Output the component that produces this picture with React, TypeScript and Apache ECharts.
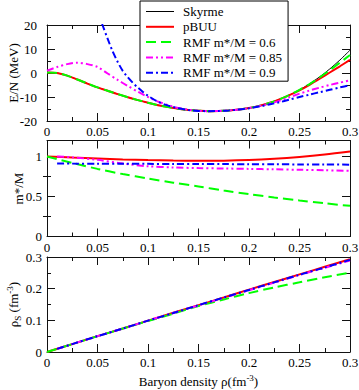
import React, { useEffect, useRef } from "react";
import * as echarts from "echarts";

// ---------- data ----------
const RHO = [0, 0.01, 0.02, 0.03, 0.04, 0.05, 0.06, 0.07, 0.08, 0.09, 0.1, 0.11, 0.12, 0.13, 0.14, 0.15, 0.16, 0.17, 0.18, 0.19, 0.2, 0.21, 0.22, 0.23, 0.24, 0.25, 0.26, 0.27, 0.28, 0.29, 0.3];
const SKYRME_EN = [0.2, 0.0, -1.1, -2.7, -4.4, -6.0, -7.4, -8.8, -10.1, -11.3, -12.4, -13.4, -14.2, -14.9, -15.4, -15.7, -15.9, -15.8, -15.6, -15.2, -14.6, -13.7, -12.5, -11.0, -9.2, -7.0, -4.5, -1.6, 1.7, 5.4, 9.5];
const PBUU_EN = [0.2, 0.0, -1.1, -2.7, -4.4, -6.0, -7.4, -8.8, -10.1, -11.3, -12.4, -13.4, -14.2, -14.9, -15.4, -15.7, -15.9, -15.8, -15.6, -15.2, -14.6, -13.7, -12.5, -11.0, -9.2, -7.2, -4.9, -2.4, 0.2, 2.8, 5.5];
const RMF06_EN = [0.2, 0.0, -1.1, -2.7, -4.4, -6.0, -7.4, -8.8, -10.1, -11.3, -12.4, -13.4, -14.2, -14.9, -15.4, -15.7, -15.9, -15.8, -15.6, -15.2, -14.6, -13.7, -12.5, -11.0, -9.2, -7.0, -4.6, -1.8, 1.2, 4.3, 7.5];
const RMF085_EN = [1.0, 2.5, 3.7, 4.3, 3.7, 2.5, -0.2, -2.9, -5.4, -7.8, -10.0, -11.9, -13.4, -14.6, -15.3, -15.7, -15.9, -15.8, -15.6, -15.2, -14.6, -13.8, -12.8, -11.6, -10.1, -8.6, -7.3, -6.1, -5.0, -4.0, -3.0];
const RHO_09 = [0.05, 0.055, 0.06, 0.065, 0.07, 0.075, 0.08, 0.085, 0.09, 0.095, 0.1, 0.11, 0.12, 0.13, 0.14, 0.15, 0.16, 0.17, 0.18, 0.19, 0.2, 0.21, 0.22, 0.23, 0.24, 0.25, 0.26, 0.27, 0.28, 0.29, 0.3];
const RMF09_EN = [26.5, 20.0, 14.3, 9.0, 4.6, 0.9, -1.8, -4.1, -6.1, -7.9, -9.5, -12.0, -13.6, -14.7, -15.4, -15.8, -15.9, -15.8, -15.6, -15.2, -14.7, -14.0, -13.1, -12.2, -11.1, -10.0, -9.0, -8.0, -7.0, -6.0, -5.1];

const RHO_C = [0, 0.025, 0.05, 0.075, 0.1, 0.125, 0.15, 0.175, 0.2, 0.225, 0.25, 0.275, 0.3];
const RHO_RMF = [0.01, 0.025, 0.05, 0.075, 0.1, 0.125, 0.15, 0.175, 0.2, 0.225, 0.25, 0.275, 0.3];

const PBUU_MS = [1.0, 0.987, 0.975, 0.964, 0.955, 0.949, 0.946, 0.948, 0.956, 0.972, 0.995, 1.025, 1.063];
const RMF06_MS = [1.0, 0.92, 0.845, 0.78, 0.725, 0.673, 0.625, 0.575, 0.53, 0.488, 0.45, 0.415, 0.383];
const RMF085_MS = [1.0, 0.99, 0.958, 0.912, 0.878, 0.863, 0.855, 0.85, 0.845, 0.84, 0.834, 0.828, 0.82];
const RMF09_MS = [0.912, 0.911, 0.91, 0.909, 0.908, 0.907, 0.906, 0.905, 0.904, 0.903, 0.901, 0.9, 0.898];

const PBUU_RS = [0, 0.025, 0.05, 0.074, 0.099, 0.124, 0.148, 0.172, 0.197, 0.221, 0.245, 0.269, 0.293];
const RMF06_RS = [0, 0.025, 0.05, 0.074, 0.098, 0.121, 0.145, 0.166, 0.186, 0.204, 0.22, 0.236, 0.251];
const RMF085_RS = [0.01, 0.025, 0.05, 0.074, 0.099, 0.123, 0.147, 0.171, 0.195, 0.219, 0.243, 0.266, 0.289];
const RMF09_RS = [0.01, 0.025, 0.05, 0.074, 0.099, 0.123, 0.148, 0.172, 0.196, 0.22, 0.244, 0.267, 0.291];

const NAMES = ["Skyrme", "pBUU", "RMF m*/M = 0.6", "RMF m*/M = 0.85", "RMF m*/M = 0.9"];
const X_RANGE = [0, 0.3, 0.05];
const Y1_RANGE = [-20, 20, 10];
const Y2_RANGE = [0, 1.2];
const Y2_MAJOR = [0, 0.5, 1];
const Y2_MINOR = [0.25, 0.75];
const Y3_RANGE = [0, 0.3, 0.1];

// ---------- styles ----------
const FONT = '"Liberation Serif", "Times New Roman", serif';
const STYLE: Record<string, { color: string; width: number; type: any }> = {
  "Skyrme": { color: "#000000", width: 1, type: "solid" },
  "pBUU": { color: "#ff0000", width: 2, type: "solid" },
  "RMF m*/M = 0.6": { color: "#00ff00", width: 2, type: [10, 5] },
  "RMF m*/M = 0.85": { color: "#ff00ff", width: 2, type: [7, 3, 2, 3, 2, 3] },
  "RMF m*/M = 0.9": { color: "#0000ff", width: 2, type: [7, 3, 2, 3] },
};

const zip = (xs: number[], ys: number[]) => xs.map((x, i) => [x, ys[i]]);

const GRIDS = [
  { top: 25, height: 96 },
  { top: 140.5, height: 96 },
  { top: 257, height: 95 },
];

const axisLine = { show: true, onZero: false, lineStyle: { color: "#111", width: 1 } };
const tickStyle = { color: "#111", width: 1 };

function xAxes(g: number, name?: any) {
  const base = {
    type: "value",
    gridIndex: g,
    min: X_RANGE[0],
    max: X_RANGE[1],
    interval: X_RANGE[2],
    axisLine,
    axisTick: { show: true, inside: true, length: 8, lineStyle: tickStyle },
    minorTick: { show: true, splitNumber: 2, length: 4, lineStyle: tickStyle },
    splitLine: { show: false },
    minorSplitLine: { show: false },
  };
  const bottom: any = {
    ...base,
    position: "bottom",
    axisLabel: { show: true, margin: 4, fontSize: 13, fontFamily: FONT, color: "#000" },
  };
  if (name) {
    bottom.name = name;
    bottom.nameLocation = "middle";
    bottom.nameGap = 21;
    bottom.nameMoveOverlap = false;
    bottom.nameTextStyle = {
      fontSize: 13,
      fontFamily: FONT,
      color: "#000",
      rich: {
        m: { fontSize: 13, fontFamily: FONT, color: "#000", lineHeight: 16 },
        sup: { fontSize: 9, fontFamily: FONT, color: "#000", lineHeight: 9, verticalAlign: "top" },
      },
    };
  }
  const top = { ...base, position: "top", axisLabel: { show: false } };
  return [bottom, top];
}

function yAxes(g: number, min: number, max: number, interval: number | undefined, name: string, nameGap: number, labelMargin: number, rich?: any) {
  const base: any = {
    type: "value",
    gridIndex: g,
    min,
    max,
    axisLine,
    splitLine: { show: false },
    minorSplitLine: { show: false },
  };
  if (interval !== undefined) {
    base.interval = interval;
    base.axisTick = { show: true, inside: true, length: 8, lineStyle: tickStyle };
    base.minorTick = { show: true, splitNumber: 2, length: 4, lineStyle: tickStyle };
  }
  const left: any = {
    ...base,
    position: "left",
    axisLabel: { show: true, margin: labelMargin, fontSize: 13, fontFamily: FONT, color: "#000" },
    name,
    nameLocation: "middle",
    nameGap,
    nameMoveOverlap: false,
    nameTextStyle: { fontSize: 13, fontFamily: FONT, color: "#000", rich },
  };
  const right: any = { ...base, position: "right", axisLabel: { show: false } };
  return [left, right];
}

function series(name: string, g: number, data: number[][]) {
  const s = STYLE[name];
  return {
    type: "line",
    name,
    xAxisIndex: g * 2,
    yAxisIndex: g * 2,
    data,
    symbol: "none",
    showSymbol: false,
    smooth: 0.3,
    clip: true,
    silent: true,
    lineStyle: { color: s.color, width: s.width, type: s.type },
    itemStyle: { color: s.color },
  };
}

export default function App() {
  const ref = useRef<HTMLDivElement>(null);
  useEffect(() => {
    if (!ref.current) return;
    const chart = echarts.init(ref.current, null, { renderer: "svg" });

    const xAll = [
      ...xAxes(0),
      ...xAxes(1),
      ...xAxes(2, "{m|Baryon density ρ(fm}{sup|-3}{m|)}"),
    ];

    const y1 = yAxes(0, Y1_RANGE[0], Y1_RANGE[1], Y1_RANGE[2], "E/N (MeV)", 27, 10);
    const y2 = yAxes(1, Y2_RANGE[0], Y2_RANGE[1], undefined, "m*/M", 22, 5);
    for (const a of y2) {
      a.axisTick = { show: true, inside: true, length: 8, lineStyle: tickStyle, customValues: Y2_MAJOR };
      a.minorTick = { show: false };
      if (a.axisLabel.show) a.axisLabel.customValues = Y2_MAJOR;
    }
    const y3 = yAxes(2, Y3_RANGE[0], Y3_RANGE[1], Y3_RANGE[2], "{m|ρ}{sub|S}{m| (fm}{sup|-3}{m|)}", 25, 5, {
      m: { fontSize: 13, fontFamily: FONT, color: "#000", lineHeight: 17 },
      sub: { fontSize: 9, fontFamily: FONT, color: "#000", lineHeight: 9, verticalAlign: "bottom" },
      sup: { fontSize: 9, fontFamily: FONT, color: "#000", lineHeight: 9, verticalAlign: "top" },
    });
    const y2minor = ["left", "right"].map((pos) => ({
      type: "value",
      gridIndex: 1,
      min: Y2_RANGE[0],
      max: Y2_RANGE[1],
      position: pos,
      axisLine: { show: false },
      axisLabel: { show: false },
      splitLine: { show: false },
      axisTick: { show: true, inside: true, length: 4, lineStyle: tickStyle, customValues: Y2_MINOR },
    }));

    const legendData = NAMES.map((n) => ({
      name: n,
      lineStyle: { width: STYLE[n].width, color: STYLE[n].color, type: STYLE[n].type },
    }));

    const option: any = {
      animation: false,
      backgroundColor: "#fff",
      textStyle: { fontFamily: FONT },
      grid: GRIDS.map((g) => ({ left: 47, width: 303, top: g.top, height: g.height, outerBoundsMode: "none", containLabel: false })),
      xAxis: xAll,
      yAxis: [...y1, ...y2, ...y3, ...y2minor],
      legend: {
        data: legendData,
        orient: "vertical",
        left: 140,
        top: 1,
        padding: [4, 6, 2, 5],
        itemGap: 2.3,
        itemWidth: 28,
        itemHeight: 10,
        selectedMode: false,
        backgroundColor: "#fff",
        borderColor: "#000",
        borderWidth: 1,
        borderRadius: 0,
        itemStyle: { opacity: 0, borderWidth: 0 },
        textStyle: { fontSize: 13, fontFamily: FONT, color: "#000", lineHeight: 13, padding: [0, 0, 0, 4] },
        z: 10,
      },
      series: [
        series(NAMES[0], 0, zip(RHO, SKYRME_EN)),
        series(NAMES[1], 0, zip(RHO, PBUU_EN)),
        series(NAMES[2], 0, zip(RHO, RMF06_EN)),
        series(NAMES[3], 0, zip(RHO, RMF085_EN)),
        series(NAMES[4], 0, zip(RHO_09, RMF09_EN)),
        series(NAMES[1], 1, zip(RHO_C, PBUU_MS)),
        series(NAMES[2], 1, zip(RHO_C, RMF06_MS)),
        series(NAMES[3], 1, zip(RHO_RMF, RMF085_MS)),
        series(NAMES[4], 1, zip(RHO_RMF, RMF09_MS)),
        series(NAMES[1], 2, zip(RHO_C, PBUU_RS)),
        series(NAMES[2], 2, zip(RHO_C, RMF06_RS)),
        series(NAMES[3], 2, zip(RHO_RMF, RMF085_RS)),
        series(NAMES[4], 2, zip(RHO_RMF, RMF09_RS)),
      ],
    };
    chart.setOption(option);
    return () => chart.dispose();
  }, []);
  return <div ref={ref} style={{ position: "fixed", left: 0, top: 0, width: 359, height: 390, background: "#fff" }} />;
}
